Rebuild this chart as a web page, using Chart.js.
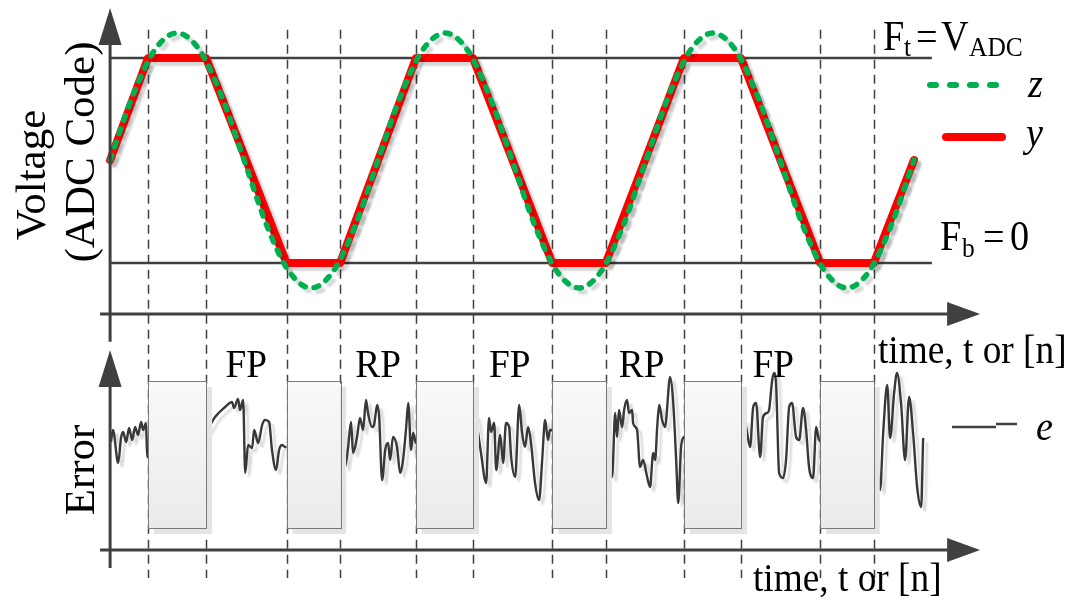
<!DOCTYPE html>
<html>
<head>
<meta charset="utf-8">
<script src="https://cdn.jsdelivr.net/npm/chart.js@4.4.1/dist/chart.umd.min.js"></script>
<style>
  html, body { margin: 0; padding: 0; background: #fff; }
  #wrap { width: 1075px; height: 601px; }
</style>
</head>
<body>
<div id="wrap"><canvas id="clip" width="1075" height="601"></canvas></div>
<script>
// time axis: one sine period = 12 units
const zTime = [0,1,2,3,4,5,6,7,8,9,10,11,12,13,14,15,16,17,18,19,20,21,22,23,24,25,26,27,28,29,30,31,32,33,34,35,36];
const zCode = [128,207,265,286,265,207,128,48,-10,-31,-10,48,
               128,207,265,286,265,207,128,48,-10,-31,-10,48,
               128,207,265,286,265,207,128,48,-10,-31,-10,48,
               128];

// clipped output y (corners sit on the dashed markers)
const yTime = [0, 1.7, 4.3, 7.9, 10.3, 13.7, 16.25, 19.8, 22.2, 25.7, 28.25, 31.8, 34.2, 36];
const yCode = [128, 255, 255, 0, 0, 255, 255, 0, 0, 255, 255, 0, 0, 128];

const FT = 255, FB = 0;
const clipTimes = [1.7, 4.3, 7.9, 10.3, 13.7, 16.25, 19.8, 22.2, 25.7, 28.25, 31.8, 34.2];
const phaseNames = ['FP', 'RP', 'FP', 'RP', 'FP'];
const phaseTimes = [6.1, 12.0, 17.9, 23.8, 29.7];

// error e, read segment by segment between the clipped zones
const eTime = [
  0.04,0.13,0.36,0.49,0.58,0.72,0.85,0.99,1.12,1.25,1.39,1.48,1.61,1.66,
  4.34,4.70,5.15,5.46,5.55,5.73,5.82,5.96,6.05,6.18,6.36,6.45,6.63,6.81,6.94,7.12,7.25,7.43,7.57,7.70,7.84,
  10.39,10.52,10.66,10.79,10.88,11.06,11.19,11.33,11.46,11.55,11.73,11.82,11.96,12.05,12.18,12.32,12.45,12.54,12.67,12.85,12.99,13.12,13.26,13.35,13.48,13.57,13.70,
  16.35,16.48,16.61,16.84,16.97,17.06,17.20,17.29,17.47,17.60,17.73,17.87,17.96,18.14,18.32,18.45,18.58,18.72,18.85,19.03,19.21,19.35,19.48,19.61,19.70,
  22.17,22.30,22.48,22.62,22.70,22.79,22.93,23.02,23.15,23.24,23.38,23.42,23.60,23.73,23.87,24.05,24.18,24.32,24.41,24.50,24.59,24.72,24.85,25.08,25.21,25.35,25.44,25.57,25.66,
  28.35,28.48,28.66,28.80,28.93,29.11,29.24,29.42,29.51,29.65,29.74,29.83,29.96,30.14,30.27,30.41,30.54,30.72,30.86,31.03,31.17,31.30,31.48,31.62,31.75,
  34.35,34.48,34.62,34.80,34.93,35.11,35.24,35.42,35.60,35.78,35.96,36.14,36.32,36.41
];
const eValue = [
  1.3,2.5,-0.8,1.7,2.3,1.3,2.7,1.5,2.8,2.0,3.3,2.5,3.2,-0.2,
  2.5,3.8,4.8,5.3,4.7,5.6,4.5,5.5,-1.8,1.0,0.7,2.5,1.2,3.0,3.5,3.3,0.5,-1.5,0.5,1.0,0.8,
  2.8,-1.2,0.8,3.3,0.2,1.8,3.7,2.5,5.5,4.2,2.8,3.0,5.0,3.8,-2.5,0.5,1.2,-0.5,1.8,0.8,-1.8,-0.5,2.8,5.2,0.5,2.2,1.2,
  4.0,2.2,0.2,-2.8,3.7,2.3,3.2,-1.5,2.0,-0.8,3.2,2.8,-0.2,-2.2,5.0,2.2,0.8,2.8,1.2,-2.8,-4.5,-0.5,3.5,1.5,2.5,
  1.8,-0.5,-2.2,4.2,1.8,4.5,2.8,4.5,5.5,4.2,4.5,3.2,2.5,-1.2,-0.5,-2.2,-3.2,0.2,-0.5,2.8,5.0,3.5,2.8,7.8,5.5,-0.5,-4.8,0.8,1.7,
  3.5,2.8,0.8,4.8,5.2,-0.2,3.8,4.2,4.5,7.5,8.2,6.8,-1.8,-2.3,-0.5,4.8,5.2,1.8,1.5,4.7,2.5,-1.2,-2.3,2.8,1.5,
  -1.5,-3.5,2.2,7.0,1.7,6.2,8.2,5.2,-0.5,5.8,2.2,-3.2,-5.2,1.7
];

const GREEN = '#00b050', RED = '#ff0000', DARK = '#404040';
const SERIF = '"Liberation Serif", "Times New Roman", serif';

function pts(xs, ys) { return xs.map((t, i) => ({ x: t, y: ys[i] })); }

function label(ctx, text, x, y, size, o = {}) {
  ctx.save();
  ctx.font = (o.italic ? 'italic ' : '') + size + 'px ' + SERIF;
  ctx.fillStyle = '#000';
  ctx.textAlign = o.align || 'left';
  ctx.textBaseline = o.baseline || 'alphabetic';
  ctx.translate(x, y);
  if (o.rotate) ctx.rotate(o.rotate);
  ctx.scale(o.squash || 0.91, 1);
  ctx.fillText(text, 0, 0);
  ctx.restore();
}

function seg(ctx, x1, y1, x2, y2) {
  ctx.beginPath(); ctx.moveTo(x1, y1); ctx.lineTo(x2, y2); ctx.stroke();
}

function arrowUp(ctx, x, tip, len, half) {
  ctx.beginPath(); ctx.moveTo(x, tip); ctx.lineTo(x - half, tip + len); ctx.lineTo(x + half, tip + len); ctx.closePath(); ctx.fill();
}
function arrowRight(ctx, tip, y, len, half) {
  ctx.beginPath(); ctx.moveTo(tip, y); ctx.lineTo(tip - len, y - half); ctx.lineTo(tip - len, y + half); ctx.closePath(); ctx.fill();
}

const sketch = {
  id: 'sketch',
  beforeDatasetsDraw(chart) {
    const { ctx, scales: { x, yV, yE } } = chart;
    ctx.save();
    // dashed markers at the clipping instants
    ctx.strokeStyle = DARK; ctx.lineWidth = 1.5; ctx.setLineDash([9, 6]);
    clipTimes.forEach(t => {
      const px = Math.round(x.getPixelForValue(t)) + 0.5;
      seg(ctx, px, yV.getPixelForValue(290), px, yE.getPixelForValue(-12.3));
    });
    ctx.setLineDash([]);
    // F_t and F_b levels
    ctx.lineWidth = 2.5;
    [FT, FB].forEach(v => {
      const py = yV.getPixelForValue(v);
      seg(ctx, x.getPixelForValue(0), py, x.getPixelForValue(36.8), py);
    });
    ctx.restore();
  },
  beforeDatasetDraw(chart) {
    const ctx = chart.ctx;
    ctx.save();
    ctx.shadowColor = 'rgba(0,0,0,0.15)';
    ctx.shadowOffsetX = 4; ctx.shadowOffsetY = 4; ctx.shadowBlur = 2;
  },
  afterDatasetDraw(chart) { chart.ctx.restore(); },
  afterDatasetsDraw(chart) {
    const { ctx, scales: { x, yV, yE } } = chart;
    ctx.save();
    // blanked zones in the error plot
    const top = yE.getPixelForValue(7.4), bot = yE.getPixelForValue(-7.3);
    for (let i = 0; i < clipTimes.length; i += 2) {
      const x0 = x.getPixelForValue(clipTimes[i]), x1 = x.getPixelForValue(clipTimes[i + 1]);
      ctx.fillStyle = '#e4e4e4';
      ctx.fillRect(x0 + 6, top + 6, x1 - x0, bot - top);
      const g = ctx.createLinearGradient(0, top, 0, bot);
      g.addColorStop(0, '#f9f9f9'); g.addColorStop(1, '#ebebeb');
      ctx.fillStyle = g;
      ctx.fillRect(x0, top, x1 - x0, bot - top);
      ctx.strokeStyle = '#7a7a7a'; ctx.lineWidth = 1;
      ctx.strokeRect(Math.round(x0) + 0.5, Math.round(top) + 0.5, Math.round(x1 - x0), Math.round(bot - top));
    }

    // axes with arrow heads
    ctx.strokeStyle = DARK; ctx.fillStyle = DARK; ctx.lineWidth = 3;
    const ax = x.getPixelForValue(0), x0 = x.getPixelForValue(-0.45), xTip = x.getPixelForValue(38.96);
    const vTip = yV.getPixelForValue(317), vAxis = yV.getPixelForValue(-63.4);
    seg(ctx, ax, vTip + 30, ax, yV.getPixelForValue(-98));
    arrowUp(ctx, ax, vTip, 37, 11.5);
    seg(ctx, x0, vAxis, xTip - 30, vAxis);
    arrowRight(ctx, xTip, vAxis, 33, 12);
    const eTip = yE.getPixelForValue(10.5), eAxis = yE.getPixelForValue(-9.5);
    seg(ctx, ax, eTip + 30, ax, yE.getPixelForValue(-11.3));
    arrowUp(ctx, ax, eTip, 37, 11.5);
    seg(ctx, x0, eAxis, xTip - 30, eAxis);
    arrowRight(ctx, xTip, eAxis, 33, 12);

    // axis titles
    label(ctx, 'Voltage', 34, 175, 43, { rotate: -Math.PI / 2, align: 'center', baseline: 'middle', squash: 1 });
    label(ctx, '(ADC Code)', 83, 152, 43, { rotate: -Math.PI / 2, align: 'center', baseline: 'middle', squash: 1 });
    label(ctx, 'Error', 83, 470, 43, { rotate: -Math.PI / 2, align: 'center', baseline: 'middle', squash: 1 });
    label(ctx, 'time, t or [n]', 878, 363, 41);
    label(ctx, 'time, t or [n]', 753, 591, 41);

    // phase labels
    phaseNames.forEach((n, i) => label(ctx, n, x.getPixelForValue(phaseTimes[i]), 377, 41, { align: 'center' }));

    // level labels
    label(ctx, 'F', 883, 50, 42);
    label(ctx, 't', 904, 56, 28);
    label(ctx, '=', 916, 50, 42);
    label(ctx, 'V', 941, 50, 42);
    label(ctx, 'ADC', 969, 56, 28);
    label(ctx, 'F', 940, 250, 42);
    label(ctx, 'b', 962, 257, 28);
    label(ctx, '=', 983, 250, 42);
    label(ctx, '0', 1010, 250, 42);

    // legend
    ctx.lineCap = 'round';
    ctx.strokeStyle = GREEN; ctx.lineWidth = 6; ctx.setLineDash([6, 14]);
    seg(ctx, 930, 85, 1000, 85);
    ctx.setLineDash([]);
    ctx.strokeStyle = RED; ctx.lineWidth = 8;
    seg(ctx, 946, 137, 1002, 137);
    ctx.lineCap = 'butt';
    ctx.strokeStyle = DARK; ctx.lineWidth = 2.5;
    seg(ctx, 952, 427, 996, 427);
    seg(ctx, 996, 424, 1017, 424);
    label(ctx, 'z', 1028, 97, 42, { italic: true });
    label(ctx, 'y', 1026, 146, 42, { italic: true });
    label(ctx, 'e', 1036, 440, 42, { italic: true });
    ctx.restore();
  }
};

new Chart(document.getElementById('clip'), {
  type: 'line',
  data: {
    datasets: [
      {
        label: 'z', data: pts(zTime, zCode), yAxisID: 'yV',
        borderColor: GREEN, borderWidth: 5.5, borderDash: [5, 9], borderCapStyle: 'round',
        cubicInterpolationMode: 'monotone', pointRadius: 0, fill: false
      },
      {
        label: 'y', data: pts(yTime, yCode), yAxisID: 'yV',
        borderColor: RED, borderWidth: 8, borderCapStyle: 'round', borderJoinStyle: 'round',
        tension: 0, pointRadius: 0, fill: false
      },
      {
        label: 'e', data: pts(eTime, eValue), yAxisID: 'yE',
        borderColor: '#383838', borderWidth: 2.4, borderJoinStyle: 'round',
        cubicInterpolationMode: 'monotone', pointRadius: 0, fill: false
      }
    ]
  },
  options: {
    responsive: false,
    animation: false,
    devicePixelRatio: 1,
    layout: { padding: 0 },
    plugins: { legend: { display: false }, tooltip: { enabled: false } },
    scales: {
      x: { type: 'linear', display: false, min: -4.93, max: 43.21 },
      yV: { type: 'linear', display: false, min: -420.4, max: 327.1 },
      yE: { type: 'linear', display: false, min: -14.6, max: 45.5 }
    }
  },
  plugins: [sketch]
});
</script>
</body>
</html>
